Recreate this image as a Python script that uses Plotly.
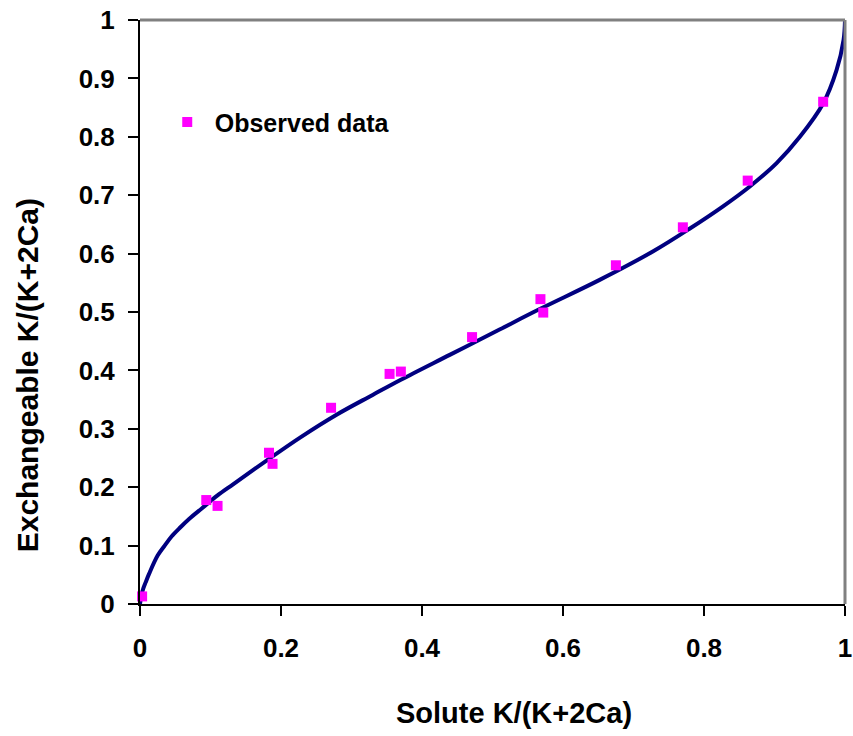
import plotly.graph_objects as go

# Observed data (solute vs exchangeable K fraction)
obs_x = [0.003, 0.094, 0.110, 0.183, 0.188, 0.271, 0.354, 0.370, 0.471,
         0.568, 0.572, 0.675, 0.770, 0.862, 0.969]
obs_y = [0.013, 0.178, 0.168, 0.259, 0.240, 0.336, 0.394, 0.398, 0.457,
         0.522, 0.499, 0.580, 0.645, 0.725, 0.860]

# Fitted curve
fit_x = [0.0, 0.001, 0.004, 0.008, 0.013, 0.025, 0.035, 0.045, 0.057, 0.07,
         0.088, 0.11, 0.132, 0.18, 0.227, 0.28, 0.33, 0.37, 0.44, 0.51,
         0.567, 0.652, 0.728, 0.78, 0.827, 0.865, 0.903, 0.936, 0.969,
         0.988, 0.998, 1.0]
fit_y = [0.0, 0.008, 0.024, 0.037, 0.052, 0.083, 0.100, 0.116, 0.131, 0.146,
         0.164, 0.186, 0.205, 0.246, 0.285, 0.325, 0.358, 0.384, 0.427, 0.470,
         0.505, 0.555, 0.604, 0.643, 0.681, 0.715, 0.755, 0.800, 0.857,
         0.914, 0.966, 1.0]

tick_vals_x = [0, 0.2, 0.4, 0.6, 0.8, 1]
tick_text_x = ["0", "0.2", "0.4", "0.6", "0.8", "1"]
tick_vals_y = [0, 0.1, 0.2, 0.3, 0.4, 0.5, 0.6, 0.7, 0.8, 0.9, 1]
tick_text_y = ["0", "0.1", "0.2", "0.3", "0.4", "0.5", "0.6", "0.7", "0.8", "0.9", "1"]

FONT = "Liberation Sans, Arial, sans-serif"

fig = go.Figure()
fig.add_trace(go.Scatter(
    x=fit_x, y=fit_y, mode="lines",
    line=dict(color="#000080", width=4, shape="spline", smoothing=1.0),
    showlegend=False, hoverinfo="skip", cliponaxis=False))
fig.add_trace(go.Scatter(
    x=obs_x, y=obs_y, mode="markers", name="<b>Observed data</b>",
    marker=dict(symbol="square", size=10, color="#FF00FF", line=dict(width=0)),
    cliponaxis=False))

axis_common = dict(
    range=[0, 1], showgrid=False, zeroline=False, showline=True, automargin=False,
    linecolor="black", linewidth=2, ticks="outside", ticklen=10, tickwidth=2,
    tickcolor="black", tickfont=dict(family=FONT, size=26, color="black"),
)
fig.update_xaxes(tickvals=tick_vals_x, ticktext=[f"<b>{t}</b>" for t in tick_text_x],
                 ticklabelstandoff=10, **axis_common)
fig.update_yaxes(tickvals=tick_vals_y, ticktext=[f"<b>{t}</b>" for t in tick_text_y],
                 ticklabelstandoff=8, **axis_common)

fig.update_layout(
    width=853, height=736,
    margin=dict(l=140, r=8, t=20, b=132),
    paper_bgcolor="white", plot_bgcolor="white",
    font=dict(family=FONT, color="black", size=25),
    legend=dict(x=0.028, y=0.825, xanchor="left", yanchor="middle", itemwidth=45,
                bgcolor="rgba(0,0,0,0)", font=dict(family=FONT, size=25, color="black")),
    shapes=[
        dict(type="line", xref="paper", yref="paper", x0=0, x1=1, y0=1, y1=1,
             line=dict(color="#808080", width=3)),
        dict(type="line", xref="paper", yref="paper", x0=1, x1=1, y0=0, y1=1,
             line=dict(color="#808080", width=3)),
    ],
    annotations=[
        dict(text="<b>Solute K/(K+2Ca)</b>", xref="paper", yref="paper",
             x=(514 - 140) / 705, y=-0.186, showarrow=False,
             xanchor="center", yanchor="middle",
             font=dict(family=FONT, size=29, color="black")),
        dict(text="<b>Exchangeable K/(K+2Ca)</b>", xref="paper", yref="paper",
             x=-0.160, y=0.392, showarrow=False, textangle=-90,
             xanchor="center", yanchor="middle",
             font=dict(family=FONT, size=30, color="black")),
    ],
)

fig.write_html("out.html")
